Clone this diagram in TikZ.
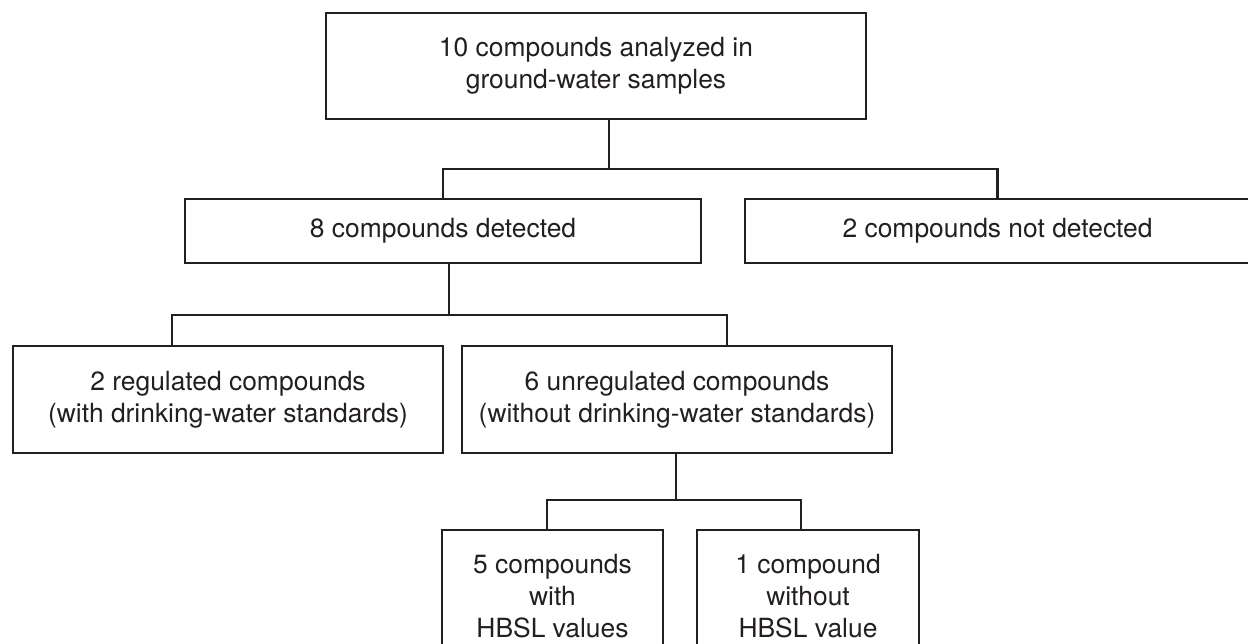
\documentclass[tikz,border=0pt]{standalone}
\usepackage{fontspec}
\setmainfont{TeX Gyre Heros}
\usepackage{xcolor}
\definecolor{Ink}{HTML}{231F20}

\begin{document}
\begin{tikzpicture}[
  x=0.5pt, y=-0.5pt,
  font=\fontsize{13.2}{15.85}\selectfont, text=Ink,
  box/.style={draw=Ink,line width=1.35pt,align=center,inner sep=0pt},
  link/.style={draw=Ink,line width=1.35pt}]

\useasboundingbox (0,0) rectangle (1248,643);

\node[box,minimum width=270pt,minimum height=53pt] (all) at (596,66)
  {10 compounds analyzed in\\ground-water samples};
\node[box,minimum width=258pt,minimum height=32pt] (det) at (443,231)
  {8 compounds detected};
\node[box,minimum width=252.5pt,minimum height=32pt] (nodet) at (997.5,231)
  {2 compounds not detected};
\node[box,minimum width=215pt,minimum height=53.5pt] (reg) at (228,399.5)
  {2 regulated compounds\\(with drinking-water standards)};
\node[box,minimum width=215pt,minimum height=53.5pt] (unreg) at (677,399.5)
  {6 unregulated compounds\\(without drinking-water standards)};
\node[box,minimum width=110.5pt,minimum height=66pt] (hbsl) at (552.5,596)
  {5 compounds\\with\\HBSL values};
\node[box,minimum width=111pt,minimum height=66pt] (nohbsl) at (808,596)
  {1 compound\\without\\HBSL value};

\coordinate (b1) at (609,169);
\coordinate (b2) at (449,315);
\coordinate (b3) at (676,500);

\draw[link] (all.south -| b1) -- (b1);
\draw[link] (det.north) |- (b1) -| (nodet.north);
\draw[link] (det.south -| b2) -- (b2);
\draw[link] ([xshift=-28pt]reg.north) |- (b2) -| ([xshift=25pt]unreg.north);
\draw[link] (unreg.south -| b3) -- (b3);
\draw[link] ([xshift=-2.75pt]hbsl.north) |- (b3) -| ([xshift=-3.5pt]nohbsl.north);
\end{tikzpicture}
\end{document}
